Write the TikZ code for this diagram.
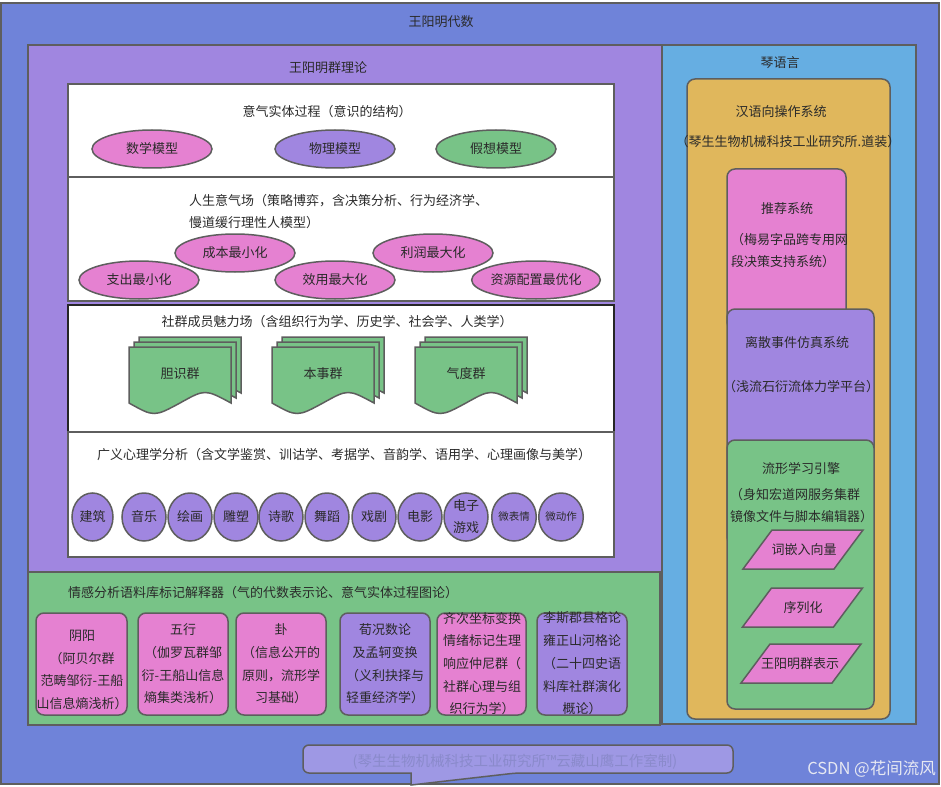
\documentclass[tikz,border=0pt]{standalone}
\usepackage{fontspec}
\setmainfont{Noto Sans CJK SC}
\usetikzlibrary{shapes.geometric}
\definecolor{outerblue}{HTML}{6F83D9}
\definecolor{lav}{HTML}{A086E0}
\definecolor{sky}{HTML}{66AEE2}
\definecolor{orng}{HTML}{E0B75C}
\definecolor{pnk}{HTML}{E581D1}
\definecolor{grn}{HTML}{78C387}
\definecolor{bord}{HTML}{5E5E5E}
\definecolor{txt}{HTML}{2A2A2A}
\definecolor{callfill}{HTML}{9E98E4}
\definecolor{calltxt}{HTML}{8A8ACB}
\definecolor{wmark}{HTML}{E6E8F2}
\tikzset{
  base/.style={draw=bord, line width=1.5pt},
  panel/.style={base, fill=#1},
  rbox/.style={base, fill=#1, rounded corners=8pt},
  lbl/.style={text=txt, font=\fontsize{13}{15}\selectfont, inner sep=0pt},
  multi/.style={align=center, text=txt, font=\fontsize{13}{22.7}\selectfont, inner sep=0pt},
  oval/.style={base, ellipse, fill=#1, minimum width=120pt, minimum height=38pt, inner sep=0pt, text=txt, font=\fontsize{13}{15}\selectfont},
  circ/.style={base, ellipse, fill=lav, minimum width=44pt, minimum height=48pt, inner sep=0pt, text=txt, font=\fontsize{13}{22}\selectfont, align=center},
  docshape/.style={base, fill=grn},
  docstack/.pic={
    \foreach \o in {10,5,0}{
      \path[docshape, shift={(\o,-\o)}] (0,0) -- (102,0) -- (102,56)
        .. controls (76,42) .. (51,56) .. controls (25,70) .. (0,56) -- cycle;
    }
  },
  para/.pic={\path[base, fill=pnk] (-31,-19.5) -- (60,-19.5) -- (31,19.5) -- (-60,19.5) -- cycle;}
}
\begin{document}
\begin{tikzpicture}[x=1pt,y=-1pt]
\useasboundingbox (0,0) rectangle (941,786);
% outer
\path[panel=outerblue] (1,3) rectangle (939,784);
\node[lbl] (tOuter) at (441,22) {王阳明代数};
% group theory panel
\path[panel=lav] (28,45) rectangle (662,572);
\node[lbl] (tGroup) at (328,68) {王阳明群理论};
% qin language panel
\path[panel=sky] (662,45) rectangle (916,724);
\node[lbl] (tQin) at (780,63) {琴语言};

% white box 1
\path[panel=white] (68,84) rectangle (614,177);
\node[lbl] (tYiqi) at (327,112) {意气实体过程（意识的结构）};
\node[oval=pnk] (m1) at (152,149) {数学模型};
\node[oval=lav] (m2) at (335,149) {物理模型};
\node[oval=grn] (m3) at (496,149) {假想模型};

% white box 2
\path[panel=white] (68,177) rectangle (614,301);
\node[multi, align=left, anchor=west, font=\fontsize{13}{22}\selectfont] (tLife) at (189,212) {人生意气场（策略博弈，含决策分析、行为经济学、\\慢道缓行理性人模型）};
\node[oval=pnk] (e1) at (235,253) {成本最小化};
\node[oval=pnk] (e2) at (433,253) {利润最大化};
\node[oval=pnk] (e3) at (139,280) {支出最小化};
\node[oval=pnk] (e4) at (335,280) {效用最大化};
\node[oval=pnk] (e5) at (536,280) {资源配置最优化};

% white box 3
\path[base, draw=black!85, fill=white] (68,305) rectangle (614,432);
\node[lbl] (tCharm) at (337,322) {社群成员魅力场（含组织行为学、历史学、社会学、人类学）};
\pic (d1) at (129,347) {docstack};
\pic (d2) at (272,347) {docstack};
\pic (d3) at (415,347) {docstack};
\node[lbl] (td1) at (180,374) {胆识群};
\node[lbl] (td2) at (323,374) {本事群};
\node[lbl] (td3) at (466,374) {气度群};

% white box 4
\path[panel=white] (68,432) rectangle (614,557);
\node[lbl] (tPsy) at (344,455) {广义心理学分析（含文学鉴赏、训诂学、考据学、音韵学、语用学、心理画像与美学）};
\node[circ, minimum width=41pt] (c1) at (92.5,517) {建筑};
\node[circ] (c2) at (144,517) {音乐};
\node[circ] (c3) at (190,517) {绘画};
\node[circ] (c4) at (236,517) {雕塑};
\node[circ] (c5) at (281,517) {诗歌};
\node[circ] (c6) at (327,517) {舞蹈};
\node[circ] (c7) at (374,517) {戏剧};
\node[circ] (c8) at (420,517) {电影};
\node[circ] (c9) at (466,517) {电子\\游戏};
\node[circ, font=\fontsize{10.5}{12}\selectfont] (c10) at (514,517) {微表情};
\node[circ, font=\fontsize{10.5}{12}\selectfont] (c11) at (561,517) {微动作};

% sentiment panel
\path[panel=grn] (28,572) rectangle (660,725);
\node[lbl, anchor=west] (tSent) at (68,593) {情感分析语料库标记解释器（气的代数表示论、意气实体过程图论）};
\path[rbox=pnk] (36,613) rectangle (127,715);
\path[rbox=pnk] (138,613) rectangle (228,715);
\path[rbox=pnk] (236,613) rectangle (326,715);
\path[rbox=lav] (340,613) rectangle (430,715);
\path[rbox=pnk] (437,613) rectangle (526,715);
\path[rbox=lav] (537,613) rectangle (627,715);
\node[multi] (s1) at (82,670) {阴阳\\（阿贝尔群\\范畴邹衍-王船\\山信息熵浅析）};
\node[multi] (s2) at (183,664) {五行\\（伽罗瓦群邹\\衍-王船山信息\\熵集类浅析）};
\node[multi] (s3) at (281,664) {卦\\（信息公开的\\原则，流形学\\习基础）};
\node[multi] (s4) at (385,664) {荀况数论\\及孟轲变换\\（义利抉择与\\轻重经济学）};
\node[multi] (s5) at (482,663.5) {齐次坐标变换\\情绪标记生理\\响应仲尼群（\\社群心理与组\\织行为学）};
\node[multi] (s6) at (582,663.5) {李斯郡县格论\\雍正山河格论\\（二十四史语\\料库社群演化\\概论）};

% right column
\path[rbox=orng] (687,79) rectangle (890,719);
\node[lbl] (tHan) at (781,112) {汉语向操作系统};
\node[lbl] (tHan2) at (788,142) {（琴生生物机械科技工业研究所.道装）};
\path[rbox=pnk] (727,169) rectangle (846,330);
\node[lbl] (tRec) at (787,209) {推荐系统};
\node[multi, align=left, anchor=west, font=\fontsize{13}{22}\selectfont] (tRec2) at (731,251) {（梅易字品跨专用网\\段决策支持系统）};
\path[rbox=lav] (727,309) rectangle (874,545);
\node[lbl] (tDis) at (797,343) {离散事件仿真系统};
\node[lbl] (tDis2) at (801,387) {（浅流石衍流体力学平台）};
\path[rbox=grn] (727,440) rectangle (874,709);
\node[lbl] (tMan) at (801,469) {流形学习引擎};
\node[multi, align=left, anchor=west, font=\fontsize{13}{22}\selectfont] (tMan2) at (730,506) {（身知宏道网服务集群\\镜像文件与脚本编辑器）};
\pic (p1) at (803,549.5) {para};
\pic (p2) at (802.5,607.5) {para};
\pic (p3) at (801,663.5) {para};
\node[lbl] (tp1) at (804,550) {词嵌入向量};
\node[lbl] (tp2) at (803,608) {序列化};
\node[lbl] (tp3) at (800,664) {王阳明群表示};

% callout
\path[base, fill=callfill, rounded corners=6pt] (303,759) |- (733,745) |- (516,773)
  [sharp corners] -- (411,785) -- (411,773) [rounded corners=6pt] -| (303,759) -- cycle;
\node[text=calltxt, font=\fontsize{14.5}{16}\selectfont, inner sep=0pt] (tCall) at (515,762) {(琴生生物机械科技工业研究所™云藏山鹰工作室制)};
\node[text=wmark, font=\fontsize{16.5}{18}\selectfont, inner sep=0pt, anchor=east] (tMark) at (936,769) {CSDN @花间流风};
\end{tikzpicture}
\end{document}
